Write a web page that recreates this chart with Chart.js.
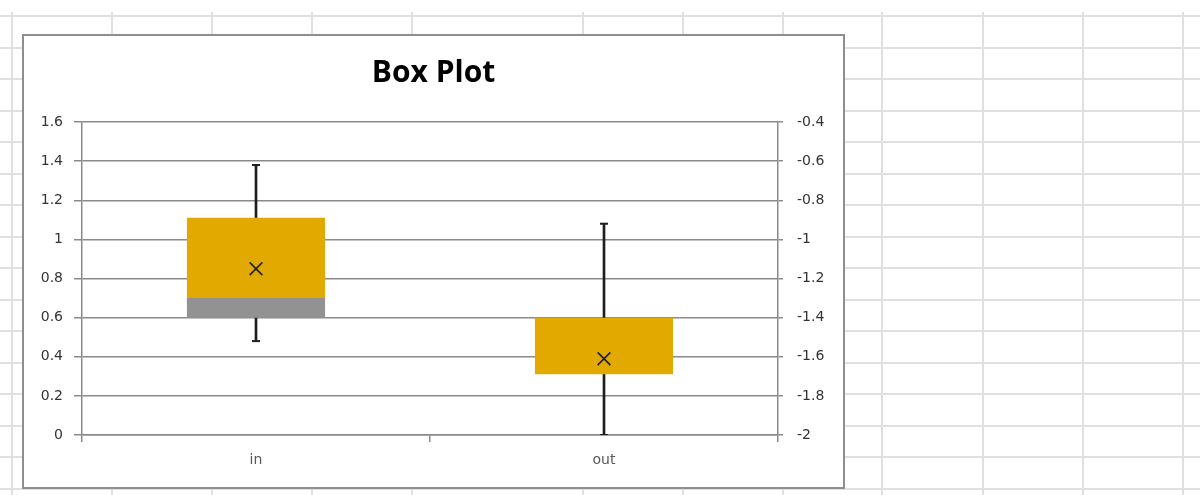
<!DOCTYPE html>
<html>
<head>
<meta charset="utf-8">
<script src="https://cdn.jsdelivr.net/npm/chart.js@4.4.1/dist/chart.umd.min.js"></script>
<style>
  html, body { margin: 0; padding: 0; background: #fff; }
  body { width: 1200px; height: 495px; position: relative; overflow: hidden; }
  .hline { position: absolute; left: 0; width: 1200px; height: 2px; background: #e0e0e0; }
  .vline { position: absolute; top: 12px; width: 2px; height: 483px; background: #e0e0e0; }
  #box {
    position: absolute; left: 22px; top: 34px; width: 823px; height: 455px;
    box-sizing: border-box; border: 2px solid #8e8e8e; background: #fff;
  }
  #chart { display: block; }
</style>
</head>
<body>
<div id="box"><canvas id="chart" width="819" height="451"></canvas></div>
<script>
// box plot values per category
const categories = ['in', 'out'];
const minVals    = [0.48, 0];
const q1Vals     = [0.6, 0.31];
const medianVals = [0.7, 0.31];
const q3Vals     = [1.11, 0.6];
const maxVals    = [1.38, 1.08];
const meanVals   = [0.85, 0.39];

// axis ranges
const leftMin = 0, leftMax = 1.6;
const rightMin = -2, rightMax = -0.4;
const tickStep = 0.2;

// spreadsheet cells behind the chart
const sheetRows = [16, 48, 79, 111, 142, 174, 205, 237, 268, 300, 331, 363, 394, 426, 457, 489];
const sheetCols = [12, 112, 212, 312, 412, 583, 683, 783, 882, 983, 1083, 1183];
sheetRows.forEach(y => {
  const d = document.createElement('div');
  d.className = 'hline';
  d.style.top = (y - 1) + 'px';
  document.body.insertBefore(d, document.body.firstChild);
});
sheetCols.forEach(x => {
  const d = document.createElement('div');
  d.className = 'vline';
  d.style.left = (x - 1) + 'px';
  document.body.insertBefore(d, document.body.firstChild);
});

const axisGrey = '#8a8a8a';
const tickFont = { family: 'DejaVu Sans', size: 14 };
const fmt = v => String(Math.round(v * 10) / 10);

const whiskers = categories.map((c, i) => [minVals[i], maxVals[i]]);
const lowerBox = categories.map((c, i) => [q1Vals[i], medianVals[i]]);
const upperBox = categories.map((c, i) => [medianVals[i], q3Vals[i]]);

new Chart(document.getElementById('chart'), {
  type: 'bar',
  data: {
    labels: categories,
    datasets: [
      {
        type: 'line', label: 'Mean', data: meanVals, order: 0,
        showLine: false, pointStyle: 'crossRot', pointRadius: 9,
        borderColor: '#1e1e1e', pointBorderWidth: 1.6, backgroundColor: 'transparent'
      },
      {
        type: 'line', label: 'Max', data: maxVals, order: 1,
        showLine: false, pointStyle: 'line', pointRadius: 4,
        borderColor: '#1e1e1e', pointBorderWidth: 2
      },
      {
        type: 'line', label: 'Min', data: minVals, order: 1,
        showLine: false, pointStyle: 'line', pointRadius: 4,
        borderColor: '#1e1e1e', pointBorderWidth: 2
      },
      {
        label: 'Q3', data: upperBox, order: 2, grouped: false,
        backgroundColor: '#e2aa00', barPercentage: 0.397, categoryPercentage: 1
      },
      {
        label: 'Median', data: lowerBox, order: 2, grouped: false,
        backgroundColor: '#929292', barPercentage: 0.397, categoryPercentage: 1
      },
      {
        label: 'Whisker', data: whiskers, order: 3, grouped: false,
        backgroundColor: '#1e1e1e', barThickness: 2
      }
    ]
  },
  options: {
    responsive: false,
    animation: false,
    layout: { padding: 0 },
    plugins: {
      legend: { display: false },
      tooltip: { enabled: false },
      title: {
        display: true,
        text: 'Box Plot',
        color: '#000',
        font: { family: 'Open Sans', size: 30, weight: 'bold', lineHeight: 1.2 },
        padding: { top: 19, bottom: 31 }
      }
    },
    scales: {
      x: {
        type: 'category',
        offset: true,
        grid: { display: true, offset: true, drawOnChartArea: false, drawTicks: true, tickLength: 7, color: axisGrey, lineWidth: 1.5 },
        border: { display: true, color: axisGrey, width: 1.5 },
        ticks: { color: '#595959', font: tickFont, padding: 10 },
        afterFit: s => { s.height = 52; }
      },
      y: {
        position: 'left',
        min: leftMin, max: leftMax,
        grid: { color: axisGrey, tickLength: 8, lineWidth: 1.5 },
        border: { display: true, color: axisGrey, width: 1.5 },
        ticks: { stepSize: tickStep, color: '#333', font: tickFont, padding: 11, callback: fmt },
        afterFit: s => { s.width = 58; }
      },
      y2: {
        position: 'right',
        min: rightMin, max: rightMax,
        grid: { drawOnChartArea: false, color: axisGrey, tickLength: 5, lineWidth: 1.5 },
        border: { display: true, color: axisGrey, width: 1.5 },
        ticks: { stepSize: tickStep, color: '#333', font: tickFont, padding: 14, callback: fmt },
        afterFit: s => { s.width = 65; }
      }
    }
  }
});
</script>
</body>
</html>
